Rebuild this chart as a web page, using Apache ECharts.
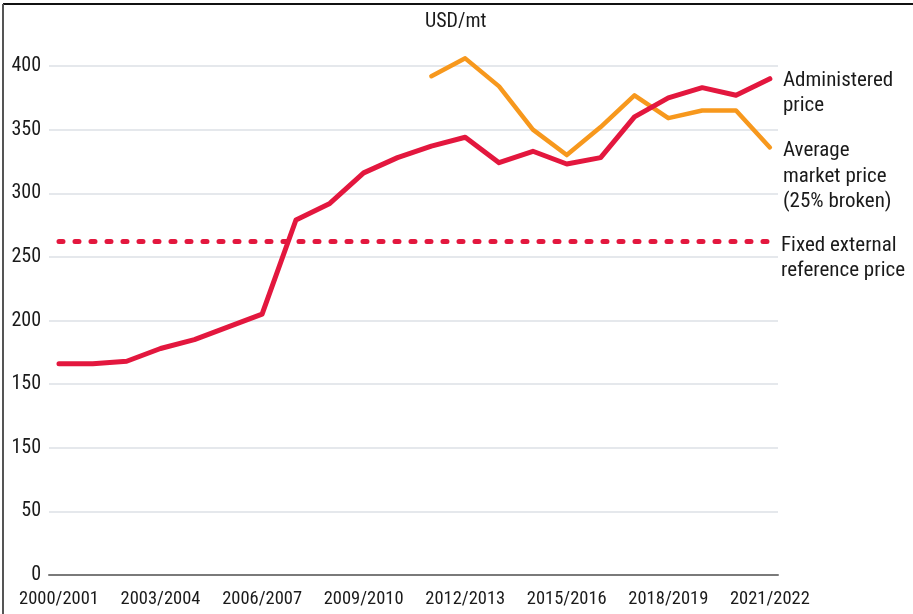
<!DOCTYPE html>
<html>
<head>
<meta charset="utf-8">
<script src="https://cdn.jsdelivr.net/npm/echarts@6/dist/echarts.min.js"></script>
<style>
html,body{margin:0;padding:0;background:#fff;}
#c{width:913px;height:614px;}
</style>
</head>
<body>
<div id="c"></div>
<script>
var categories = ["2000/2001","2001/2002","2002/2003","2003/2004","2004/2005","2005/2006","2006/2007","2007/2008","2008/2009","2009/2010","2010/2011","2011/2012","2012/2013","2013/2014","2014/2015","2015/2016","2016/2017","2017/2018","2018/2019","2019/2020","2020/2021","2021/2022"];
var administered = [166,166,168,178,185,195,205,279,292,316,328,337,344,324,333,323,328,360,375,383,377,390];
var averageMarket = [null,null,null,null,null,null,null,null,null,null,null,392,406,384,350,330,352,377,359,365,365,336];
var fixedReference = [262,262,262,262,262,262,262,262,262,262,262,262,262,262,262,262,262,262,262,262,262,262];
var yTickLabels = ["0","50","150","150","200","250","300","350","400"];
var xLabelIndices = [0,3,6,9,12,15,18,21];

var FONT = '"Liberation Sans Narrow", "Roboto Condensed", "Liberation Sans", sans-serif';
var RED = '#e3173e';
var ORANGE = '#f7981d';

function pairs(arr){ return arr.map(function(v,i){ return [i, v]; }); }

var chart = echarts.init(document.getElementById('c'), null, {renderer:'canvas'});
chart.setOption({
  animation:false,
  backgroundColor:'#fff',
  grid:{left:49, right:135, top:66, bottom:39, containLabel:false},
  xAxis:{
    type:'value', min:-0.295, max:21.24,
    axisLine:{show:true, lineStyle:{color:'#7a7a7a', width:2}},
    axisTick:{show:false},
    splitLine:{show:false},
    axisLabel:{
      customValues:xLabelIndices,
      formatter:function(v){ return categories[Math.round(v)]; },
      color:'#1a1a1a', fontFamily:FONT, fontSize:18.5, margin:15
    }
  },
  yAxis:{
    type:'value', min:0, max:400, interval:50,
    axisLine:{show:false}, axisTick:{show:false},
    splitLine:{show:true, lineStyle:{color:'#dde1e6', width:1.5}},
    axisLabel:{
      formatter:function(v){ return yTickLabels[Math.round(v/50)]; },
      color:'#1a1a1a', fontFamily:FONT, fontSize:20, margin:8
    }
  },
  series:[
    {
      name:'Fixed external reference price', type:'line', data:pairs(fixedReference),
      showSymbol:false, symbol:'none', clip:false,
      lineStyle:{color:RED, width:5, type:[4,12], cap:'round'},
      z:2
    },
    {
      name:'Average market price (25% broken)', type:'line', data:pairs(averageMarket),
      showSymbol:false, symbol:'none', connectNulls:false, clip:false,
      lineStyle:{color:ORANGE, width:4.5, cap:'round', join:'round'},
      z:3
    },
    {
      name:'Administered price', type:'line', data:pairs(administered),
      showSymbol:false, symbol:'none', clip:false,
      lineStyle:{color:RED, width:5, cap:'round', join:'round'},
      z:4
    }
  ],
  graphic:[
    {type:'line', shape:{x1:3, y1:4, x2:913, y2:4}, style:{stroke:'#111', lineWidth:2}},
    {type:'line', shape:{x1:3, y1:4, x2:3, y2:614}, style:{stroke:'#555', lineWidth:2}},
    {type:'text', left:425, top:12, style:{text:'USD/mt', font:'20px ' + FONT, fill:'#1a1a1a'}},
    {type:'text', left:783, top:68, style:{text:'Administered\nprice', font:'21px ' + FONT, fill:'#1a1a1a', lineHeight:25}},
    {type:'text', left:783, top:138, style:{text:'Average\nmarket price\n(25% broken)', font:'21px ' + FONT, fill:'#1a1a1a', lineHeight:25.5}},
    {type:'text', left:781, top:233, style:{text:'Fixed external\nreference price', font:'21px ' + FONT, fill:'#1a1a1a', lineHeight:25}}
  ]
});
</script>
</body>
</html>
